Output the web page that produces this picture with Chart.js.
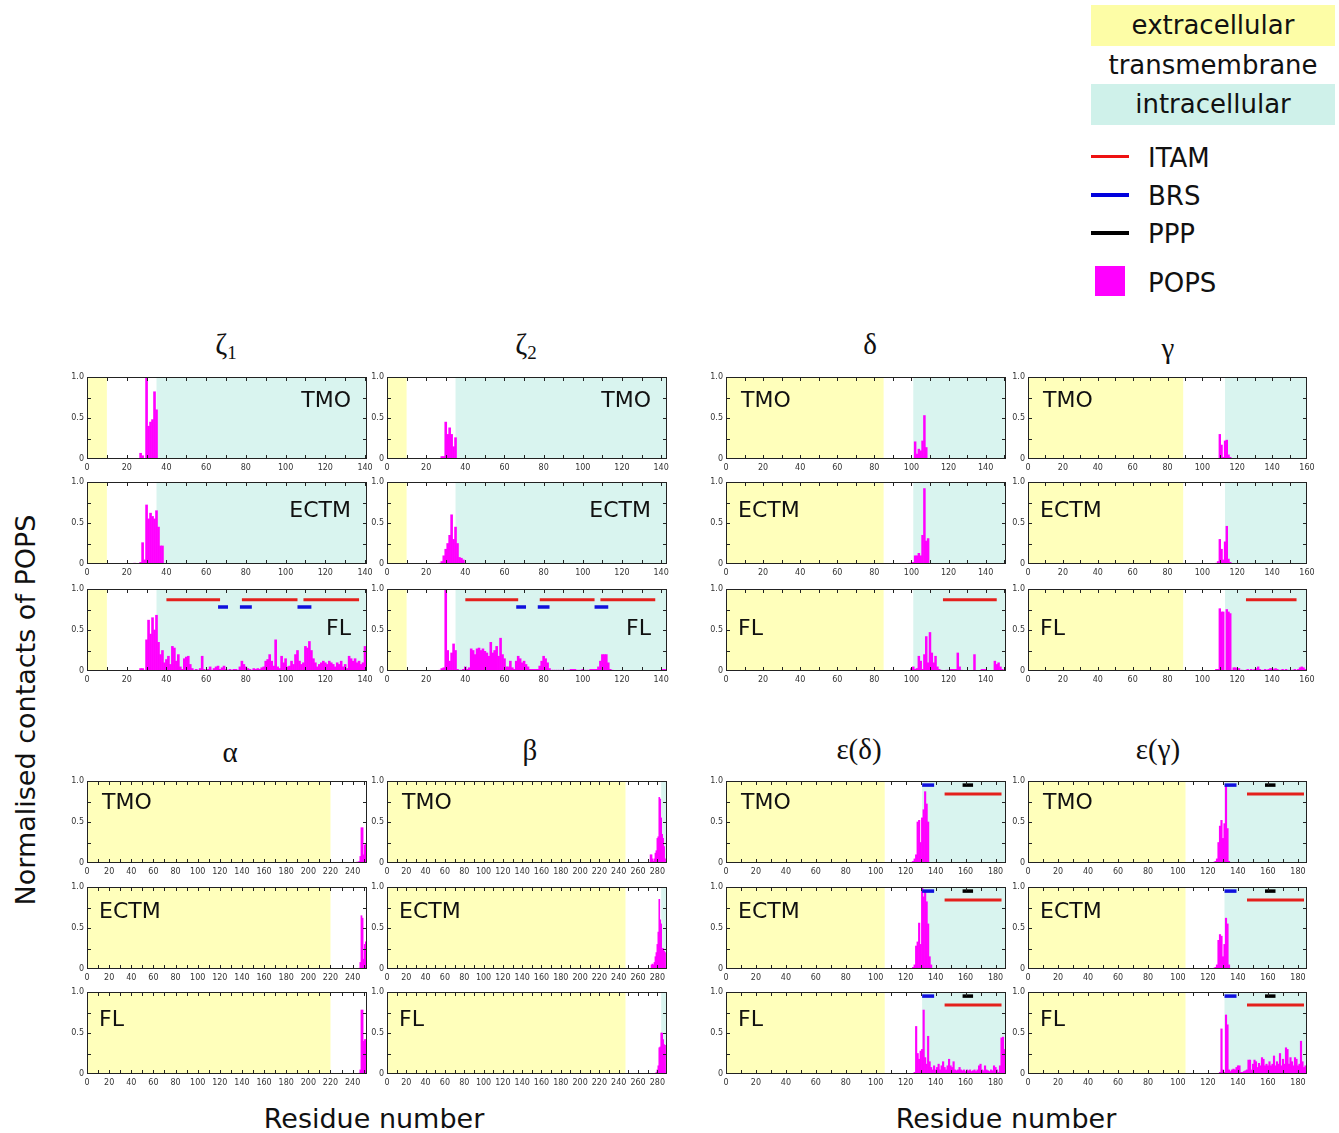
<!DOCTYPE html>
<html>
<head>
<meta charset="utf-8">
<script src="https://cdn.jsdelivr.net/npm/chart.js@4.4.1/dist/chart.umd.min.js"></script>
<style>
  body { margin: 0; background: #fff; }
  #page { position: relative; width: 1339px; height: 1133px; font-family: 'DejaVu Sans', sans-serif; color: #111; overflow: hidden; }
  .panel { position: absolute; }
  .title { position: absolute; font-family: 'Liberation Serif', 'DejaVu Serif', serif; font-size: 29px; line-height: 1; transform: translate(-50%, -50%); white-space: nowrap; }
  .title sub { font-size: 19px; vertical-align: -5px; }
  .axt { position: absolute; font-size: 27px; line-height: 1; white-space: nowrap; transform: translate(-50%, -50%); }
  .lg { position: absolute; font-size: 26px; line-height: 1; white-space: nowrap; }
  .box { position: absolute; left: 1091px; width: 244px; text-align: center; font-size: 26px; }
  .mk { position: absolute; left: 1091px; width: 38px; }
</style>
</head>
<body>
<div id="page">
  <div class="box" style="top:5px;height:41px;line-height:41px;background:#fdfda6;">extracellular</div>
  <div class="box" style="top:46px;height:38px;line-height:38px;">transmembrane</div>
  <div class="box" style="top:84px;height:41px;line-height:41px;background:#cff1ea;">intracellular</div>
  <div class="mk" style="top:155px;height:3px;background:#ee1111;"></div>
  <div class="lg" style="left:1148px;top:145px;">ITAM</div>
  <div class="mk" style="top:193px;height:4px;background:#0000dd;"></div>
  <div class="lg" style="left:1148px;top:183px;">BRS</div>
  <div class="mk" style="top:231px;height:4px;background:#000;"></div>
  <div class="lg" style="left:1148px;top:221px;">PPP</div>
  <div style="position:absolute;left:1095px;top:266px;width:30px;height:30px;background:#ff00ff;"></div>
  <div class="lg" style="left:1148px;top:270px;">POPS</div>

  <div class="title" style="left:226px;top:346px;">ζ<sub>1</sub></div>
  <div class="title" style="left:526px;top:346px;">ζ<sub>2</sub></div>
  <div class="title" style="left:870px;top:344px;">δ</div>
  <div class="title" style="left:1168px;top:348px;">γ</div>
  <div class="title" style="left:230px;top:752px;">α</div>
  <div class="title" style="left:530px;top:750px;">β</div>
  <div class="title" style="left:859px;top:749px;">ε(δ)</div>
  <div class="title" style="left:1158px;top:749px;">ε(γ)</div>

  <div class="axt" style="left:25px;top:710px;transform:translate(-50%,-50%) rotate(-90deg);">Normalised contacts of POPS</div>
  <div class="axt" style="left:374px;top:1118px;">Residue number</div>
  <div class="axt" style="left:1006px;top:1118px;">Residue number</div>
</div>

<script>
// POPS contact fraction per residue; each series starts at the residue in its "first" list
var zeta1TMO = [0.07, 0.04, 0, 1.0, 0.4, 0.45, 0.48, 0.82, 0.6];
var zeta1ECTM = [0.01, 0, 0, 0.02, 0.26, 0.05, 0.72, 0.55, 0.62, 0.58, 0.55, 0.65, 0.45, 0.22, 0.22];
var zeta1FL = [
  0.03, 0.03, 0.01, 0.38, 0.62, 0.45, 0.65, 0.5, 0.68, 0.35,
  0.2, 0.25, 0.1, 0.14, 0.18, 0.08, 0.3, 0.28, 0.12, 0.2,
  0.05, 0.02, 0.15, 0.17, 0.18, 0.08, 0.03, 0.01, 0.02, 0.01,
  0.03, 0.18, 0.02, 0.01, 0.02, 0.05, 0.01, 0.03, 0.05, 0.06,
  0.02, 0.04, 0.06, 0.02, 0.01, 0.02, 0.01, 0.02, 0.02, 0.01,
  0.05, 0.12, 0.08, 0.05, 0.03, 0.02, 0.01, 0.03, 0.02, 0.03,
  0.02, 0.04, 0.05, 0.12, 0.14, 0.2, 0.12, 0.06, 0.38, 0.05,
  0.03, 0.18, 0.1, 0.15, 0.05, 0.06, 0.12, 0.08, 0.2, 0.25,
  0.12, 0.08, 0.1, 0.3, 0.28, 0.36, 0.25, 0.15, 0.1, 0.05,
  0.08, 0.1, 0.12, 0.1, 0.08, 0.12, 0.1, 0.08, 0.05, 0.1,
  0.08, 0.12, 0.05, 0.08, 0.03, 0.18, 0.15, 0.12, 0.15, 0.1,
  0.12, 0.08, 0.1, 0.3
];
var firstZeta1 = [27, 24, 27];

var zeta2TMO = [0.03, 0.03, 0.45, 0.3, 0.38, 0.3, 0.15, 0.26];
var zeta2ECTM = [0.01, 0.03, 0.1, 0.18, 0.25, 0.35, 0.6, 0.3, 0.45, 0.25, 0.08, 0.07, 0.05];
var zeta2FL = [
  0.01, 0.03, 0.04, 1.0, 0.25, 0.12, 0.22, 0.33, 0.25, 0.02,
  0.01, 0.01, 0.02, 0.05, 0.02, 0.04, 0.27, 0.25, 0.2, 0.27,
  0.28, 0.25, 0.27, 0.24, 0.22, 0.18, 0.35, 0.22, 0.25, 0.3,
  0.18, 0.4, 0.2, 0.15, 0.05, 0.05, 0.12, 0.04, 0.02, 0.12,
  0.18, 0.15, 0.1, 0.12, 0.08, 0.05, 0.02, 0.02, 0.02, 0.02,
  0.02, 0.06, 0.12, 0.18, 0.15, 0.1, 0.03, 0.01, 0.01, 0.01,
  0.01, 0.01, 0.01, 0.01, 0, 0.01, 0.01, 0.02, 0.02, 0.02,
  0.01, 0.01, 0.01, 0.02, 0.01, 0.01, 0.01, 0.02, 0.02, 0.02,
  0.02, 0.05, 0.12, 0.2, 0.2, 0.2, 0.1, 0.02, 0.01, 0,
  0, 0, 0, 0, 0, 0, 0, 0, 0, 0,
  0, 0, 0, 0, 0, 0, 0, 0, 0, 0,
  0, 0, 0, 0, 0.02, 0.02
];
var firstZeta2 = [28, 27, 27];

var deltaTMO = [0.21, 0.06, 0.12, 0.1, 0.22, 0.53, 0.14];
var deltaECTM = [0.01, 0.01, 0.02, 0.1, 0.1, 0.13, 0.1, 0.35, 0.92, 0.28, 0.31];
var deltaFL = [
  0.03, 0.05, 0.02, 0.03, 0.18, 0.12, 0.02, 0.2, 0.42, 0.1,
  0.47, 0.22, 0.1, 0.18, 0.05, 0.02, 0.01, 0, 0, 0.01,
  0.01, 0.02, 0.02, 0.02, 0.02, 0.22, 0.05, 0.01, 0, 0,
  0, 0, 0, 0, 0.2, 0, 0, 0, 0.02, 0.02,
  0.02, 0, 0, 0, 0, 0.12, 0.08, 0.1, 0.05, 0.02
];
var firstDelta = [102, 99, 100];

var gammaTMO = [0.3, 0.17, 0.02, 0.22, 0.23, 0.05, 0.02];
var gammaECTM = [0.01, 0.03, 0.3, 0.18, 0.05, 0.27, 0.46, 0.06, 0.02];
var gammaFL = [
  0.02, 0.02, 0.76, 0.72, 0.72, 0, 0.75, 0.72, 0.7, 0.01,
  0.04, 0.04, 0.03, 0.03, 0.01, 0.01, 0, 0.01, 0.02, 0.01,
  0.02, 0.01, 0.02, 0.03, 0.05, 0.02, 0.01, 0.01, 0.02, 0.01,
  0.02, 0.03, 0.03, 0.02, 0.03, 0.02, 0.01, 0.01, 0.02, 0.01,
  0.02, 0.01, 0.01, 0.01, 0.01, 0.02, 0.01, 0.02, 0.04, 0.05,
  0.04, 0.02
];
var firstGamma = [110, 108, 108];

var alphaTMO = [0.01, 0.01, 0.02, 0.08, 0.43, 0.43, 0.1, 0.22, 0.23];
var alphaECTM = [0.01, 0.08, 0.65, 0.62, 0.12, 0.3, 0.33];
var alphaFL = [0.01, 0.05, 0.78, 0.78, 0.4, 0.42, 0.42];
var firstAlpha = [244, 246, 246];

var betaTMO = [0.1, 0.1, 0.05, 0.02, 0.05, 0.12, 0.15, 0.3, 0.32, 0.8, 0.78, 0.55, 0.35, 0.3, 0.2, 0.05];
var betaECTM = [0.05, 0.06, 0.05, 0.08, 0.15, 0.2, 0.3, 0.45, 0.85, 0.6, 0.55, 0.25, 0.25, 0.22, 0.2];
var betaFL = [0.02, 0.05, 0.1, 0.32, 0.33, 0.5, 0.5, 0.42, 0.36, 0.35];
var firstBeta = [273, 274, 279];

var epsDTMO = [0.01, 0.02, 0.05, 0.1, 0.5, 0.52, 0.25, 0.55, 0.65, 0.87, 0.72, 0.5];
var epsDECTM = [0.02, 0.05, 0.28, 0.33, 0.56, 0.3, 1.0, 0.88, 0.95, 0.82, 0.55, 0.15, 0.05];
var epsDFL = [
  0.02, 0.58, 0.25, 0.18, 0.28, 0.3, 0.78, 0.2, 0.12, 0.46,
  0.15, 0.08, 0.05, 0.1, 0.05, 0.08, 0.12, 0.05, 0.1, 0.15,
  0.08, 0.05, 0.1, 0.18, 0.1, 0.08, 0.15, 0.05, 0.04, 0.05,
  0.08, 0.05, 0.04, 0.05, 0.03, 0.05, 0.04, 0.05, 0.03, 0.04,
  0.05, 0.03, 0.05, 0.1, 0.12, 0.05, 0.04, 0.1, 0.05, 0.04,
  0.03, 0.05, 0.04, 0.1, 0.08, 0.05, 0.02, 0.1, 0.44, 0.45,
  0.3
];
var firstEpsD = [124, 125, 126];

var epsGTMO = [0.01, 0.02, 0.05, 0.25, 0.45, 0.52, 0.3, 0.48, 0.95, 0.42, 0.02];
var epsGECTM = [0.01, 0.02, 0.05, 0.35, 0.42, 0.4, 0.15, 0.3, 0.62, 0.55, 0.05];
var epsGFL = [
  0.02, 0.55, 0.05, 0.02, 0.72, 0.6, 0.05, 0.03, 0.05, 0.06,
  0.05, 0.08, 0.1, 0.1, 0.02, 0.02, 0.03, 0.04, 0.05, 0.17,
  0.17, 0.05, 0.12, 0.17, 0.15, 0.08, 0.13, 0.1, 0.2, 0.18,
  0.1, 0.12, 0.1, 0.15, 0.1, 0.12, 0.22, 0.1, 0.15, 0.12,
  0.25, 0.1, 0.18, 0.12, 0.32, 0.3, 0.12, 0.2, 0.15, 0.1,
  0.2, 0.18, 0.1, 0.12, 0.4, 0.15, 0.08, 0.1
];
var firstEpsG = [124, 124, 128];

// region borders: [end of extracellular, start of intracellular]
var regZeta = [10, 35];
var regDelta = [85, 101];
var regGamma = [89, 113];
var regAlpha = [220, 999];
var regBeta = [247, 284];
var regEpsD = [106, 131];
var regEpsG = [105, 131];

// motifs as [from, to] residue ranges
var itamZeta = [[40, 67], [78, 106], [109, 137]];
var brsZeta = [[66, 71], [77, 83], [106, 113]];
var itamDelta = [[117, 146]];
var itamGamma = [[125, 154]];
var itamEps = [[146, 184]];
var brsEps = [[131, 139]];
var pppEps = [[158, 165]];
var levelZeta = [0.87, 0.78];
var levelEps = [0.84, 0.95];

var KINDS = ['TMO', 'ECTM', 'FL'];
var COL_X = [87, 387, 726, 1028];
var COL_W = [280, 280, 280, 279];
var ROW_Y = [377, 482, 589, 781, 887, 992];
var ROW_H = 82;

var RED = '#e4201c', BLUE = '#1010dd', MAGENTA = '#ff00ff';
var YELLOW = '#ffffbb', CYAN = '#d9f4ef';

Chart.defaults.font.family = "'DejaVu Sans', sans-serif";

function motif(segs, level, color, width) {
  var pts = [];
  segs.forEach(function (s, k) {
    if (k) pts.push({ x: s[0], y: null });
    pts.push({ x: s[0], y: level }, { x: s[1], y: level });
  });
  return { type: 'line', data: pts, borderColor: color, borderWidth: width, pointRadius: 0,
    spanGaps: false, fill: false, order: 0, borderCapStyle: 'butt' };
}

function zetaMotifs(k) {
  return k < 2 ? [] : [motif(itamZeta, levelZeta[0], RED, 3), motif(brsZeta, levelZeta[1], BLUE, 3.5)];
}
function epsMotifs() {
  return [motif(itamEps, levelEps[0], RED, 3), motif(brsEps, levelEps[1], BLUE, 3.5), motif(pppEps, levelEps[1], '#000', 3.5)];
}

var proteins = [
  { col: 0, top: true, max: 141, reg: regZeta, series: [zeta1TMO, zeta1ECTM, zeta1FL], first: firstZeta1, motifs: zetaMotifs, align: 'right' },
  { col: 1, top: true, max: 143, reg: regZeta, series: [zeta2TMO, zeta2ECTM, zeta2FL], first: firstZeta2, motifs: zetaMotifs, align: 'right' },
  { col: 2, top: true, max: 151, reg: regDelta, series: [deltaTMO, deltaECTM, deltaFL], first: firstDelta,
    motifs: function (k) { return k < 2 ? [] : [motif(itamDelta, levelZeta[0], RED, 3)]; } },
  { col: 3, top: true, max: 160, reg: regGamma, series: [gammaTMO, gammaECTM, gammaFL], first: firstGamma,
    motifs: function (k) { return k < 2 ? [] : [motif(itamGamma, levelZeta[0], RED, 3)]; } },
  { col: 0, top: false, max: 253, reg: regAlpha, series: [alphaTMO, alphaECTM, alphaFL], first: firstAlpha, motifs: function () { return []; } },
  { col: 1, top: false, max: 290, reg: regBeta, series: [betaTMO, betaECTM, betaFL], first: firstBeta, motifs: function () { return []; } },
  { col: 2, top: false, max: 187, reg: regEpsD, series: [epsDTMO, epsDECTM, epsDFL], first: firstEpsD, motifs: epsMotifs },
  { col: 3, top: false, max: 186, reg: regEpsG, series: [epsGTMO, epsGECTM, epsGFL], first: firstEpsG, motifs: epsMotifs }
];

var regionPlugin = {
  id: 'regions',
  beforeDatasetsDraw: function (chart, args, opts) {
    var a = chart.chartArea, xs = chart.scales.x, ctx = chart.ctx;
    var e = Math.min(xs.getPixelForValue(opts.reg[0]), a.right);
    ctx.save();
    ctx.fillStyle = YELLOW;
    ctx.fillRect(a.left, a.top, e - a.left, a.bottom - a.top);
    if (opts.reg[1] < xs.max) {
      var i = xs.getPixelForValue(opts.reg[1]);
      ctx.fillStyle = CYAN;
      ctx.fillRect(i, a.top, a.right - i, a.bottom - a.top);
    }
    ctx.restore();
  }
};

var framePlugin = {
  id: 'frame',
  afterDatasetsDraw: function (chart, args, opts) {
    var a = chart.chartArea, xs = chart.scales.x, ys = chart.scales.y, ctx = chart.ctx;
    ctx.save();
    ctx.strokeStyle = '#222';
    ctx.lineWidth = 1;
    ctx.beginPath();
    for (var v = 10; v < xs.max; v += 10) {
      var px = Math.round(xs.getPixelForValue(v)) + 0.5;
      ctx.moveTo(px, a.bottom); ctx.lineTo(px, a.bottom - 4);
      ctx.moveTo(px, a.top); ctx.lineTo(px, a.top + 4);
    }
    for (var t = 0.25; t < 1; t += 0.25) {
      var py = Math.round(ys.getPixelForValue(t)) + 0.5;
      ctx.moveTo(a.left, py); ctx.lineTo(a.left + 4, py);
      ctx.moveTo(a.right, py); ctx.lineTo(a.right - 4, py);
    }
    ctx.stroke();
    ctx.strokeRect(a.left + 0.5, a.top + 0.5, a.right - a.left - 1, a.bottom - a.top - 1);

    ctx.fillStyle = '#111';
    ctx.font = "22px 'DejaVu Sans', sans-serif";
    ctx.textBaseline = 'middle';
    ctx.textAlign = opts.align;
    var tx = opts.align === 'right' ? a.right - 16 : a.left + opts.dx;
    ctx.fillText(opts.text, tx, a.top + opts.dy);
    ctx.restore();
  }
};

var page = document.getElementById('page');
var labelDyTop = [24, 29, 40];
var labelDyBottom = [22, 25, 28];
var labelDx = [15, 12, 12];

proteins.forEach(function (p) {
  KINDS.forEach(function (kind, k) {
    var row = (p.top ? 0 : 3) + k;
    var cv = document.createElement('canvas');
    cv.width = COL_W[p.col] + 28;
    cv.height = ROW_H + 18;
    cv.className = 'panel';
    cv.style.left = (COL_X[p.col] - 18) + 'px';
    cv.style.top = (ROW_Y[row] - 6) + 'px';
    page.appendChild(cv);

    var vals = p.series[k], first = p.first[k];
    var bars = vals.map(function (v, i) { return { x: first + i, y: v }; });
    var datasets = [{
      type: 'bar', data: bars, backgroundColor: MAGENTA, borderWidth: 0,
      barPercentage: 1, categoryPercentage: 1, order: 1
    }].concat(p.motifs(k));

    new Chart(cv.getContext('2d'), {
      type: 'bar',
      data: { datasets: datasets },
      options: {
        responsive: false,
        animation: false,
        events: [],
        layout: { padding: { left: 0, right: 10, top: 6, bottom: 0 } },
        plugins: {
          legend: { display: false },
          tooltip: { enabled: false },
          regions: { reg: p.reg },
          frame: {
            text: kind,
            align: p.align || 'left',
            dx: labelDx[k],
            dy: (p.top ? labelDyTop : labelDyBottom)[k]
          }
        },
        scales: {
          x: {
            type: 'linear', min: 0, max: p.max, offset: false,
            grid: { display: false, drawTicks: false },
            border: { display: false },
            ticks: { stepSize: 20, includeBounds: false, autoSkip: false, maxRotation: 0,
              padding: 4, color: '#333', font: { size: 8 } },
            afterFit: function (s) { s.height = 12; s.paddingLeft = 0; s.paddingRight = 0; }
          },
          y: {
            min: 0, max: 1,
            grid: { display: false, drawTicks: false },
            border: { display: false },
            ticks: { stepSize: 0.5, padding: 3, color: '#333', font: { size: 8 },
              callback: function (v) { return v === 0 ? '0' : v.toFixed(1); } },
            afterFit: function (s) { s.width = 18; s.paddingTop = 0; s.paddingBottom = 0; }
          }
        }
      },
      plugins: [regionPlugin, framePlugin]
    });
  });
});
</script>
</body>
</html>
